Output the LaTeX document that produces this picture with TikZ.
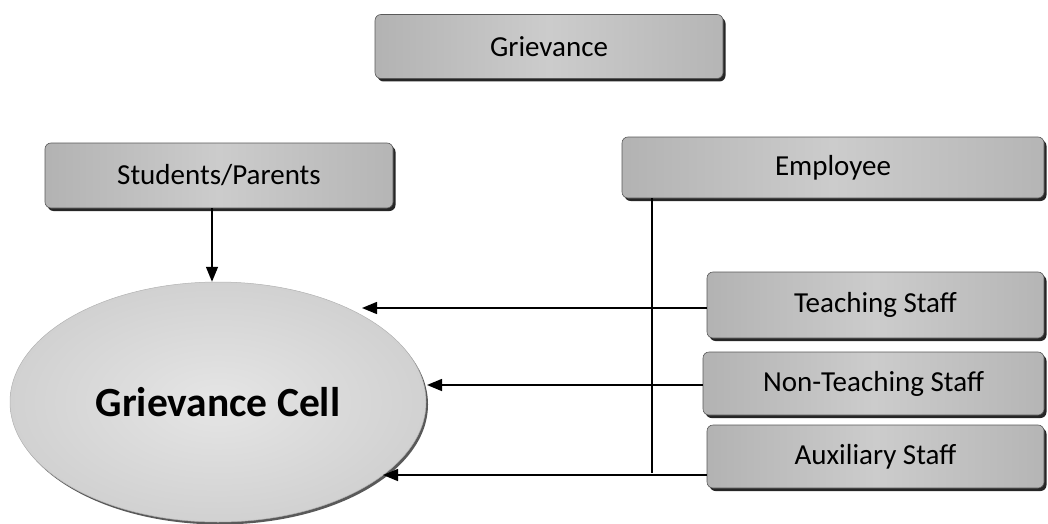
\documentclass[tikz,border=0pt]{standalone}
\usepackage{fontspec}
\setmainfont{Carlito}
\usetikzlibrary{arrows.meta,shapes.geometric,shadows}
\begin{document}
\begin{tikzpicture}[x=1pt,y=-1pt,
  boxstyle/.style={draw=gray!70!black, line width=0.6pt, rounded corners=6pt,
    left color=gray!60, right color=gray!58, middle color=gray!40,
    drop shadow={shadow xshift=2.5pt, shadow yshift=-3pt, fill=black!85, opacity=1},
    inner sep=0pt, font=\fontsize{29}{33}\selectfont, text=black},
  cellstyle/.style={ellipse, draw=gray!60, line width=0.5pt,
    inner color=gray!20, outer color=gray!36,
    drop shadow={shadow xshift=2pt, shadow yshift=-2.5pt, fill=gray!70!black, opacity=1},
    minimum width=416pt, minimum height=240pt, inner sep=0pt,
    font=\bfseries\fontsize{41.5}{46}\selectfont},
  conn/.style={line width=1.5pt, black},
  arr/.style={conn, -{Triangle[length=15pt,width=12pt]}}
]
\useasboundingbox (0,0) rectangle (1048,524);

\node[boxstyle, minimum width=348pt, minimum height=64pt] (griev) at (549,46.5) {Grievance};
\node[boxstyle, minimum width=348pt, minimum height=65pt] (stud) at (219,175.5) {Students/Parents};
\node[boxstyle, minimum width=422pt, minimum height=61pt] (emp) at (833,167.5) {Employee};
\node[boxstyle, minimum width=337pt, minimum height=66pt] (teach) at (875.5,305) {Teaching Staff};
\node[boxstyle, minimum width=341pt, minimum height=63pt] (nonteach) at (873.5,383.5) {Non-Teaching Staff};
\node[boxstyle, minimum width=337pt, minimum height=63pt] (aux) at (875.5,456.5) {Auxiliary Staff};

\node[cellstyle] (cell) at (218,402) {Grievance Cell};

\coordinate (empdrop) at (652,198);
\coordinate (empend) at (652,473);
\coordinate (t1) at (362,308);
\coordinate (t2) at (427,385);
\coordinate (t3) at (383,475);

\draw[arr] (stud.south -| 212,0) -- (cell.north -| 212,0);
\draw[conn] (empdrop) -- (empend);
\draw[arr] (teach.west |- t1) -- (t1);
\draw[arr] (nonteach.west |- t2) -- (t2);
\draw[arr] (aux.west |- t3) -- (t3);
\end{tikzpicture}
\end{document}
